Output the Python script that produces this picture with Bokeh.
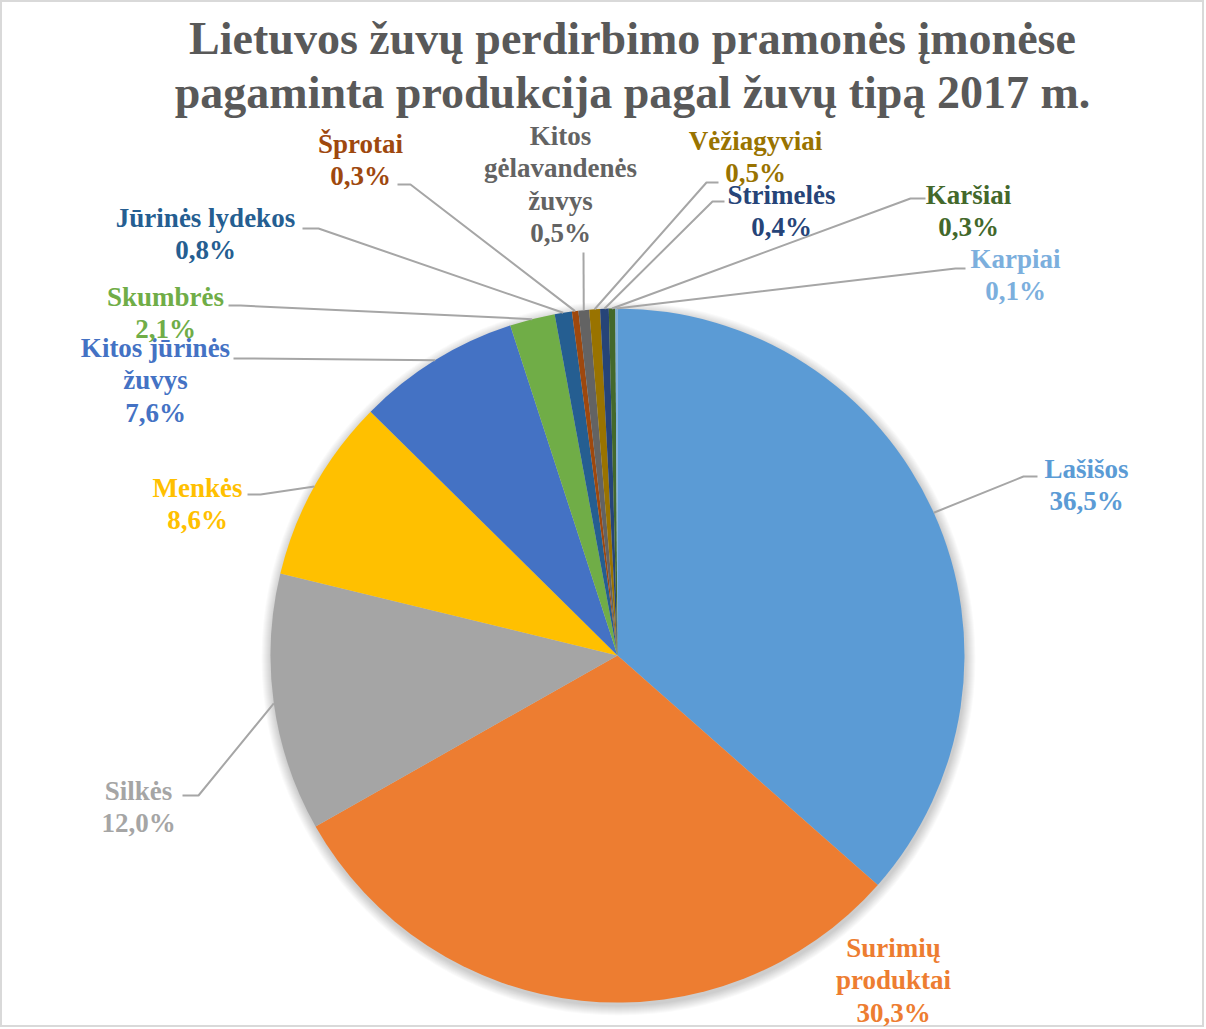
import math
from bokeh.plotting import figure
from bokeh.models import Range1d
from bokeh.core.properties import value
from bokeh.embed import file_html
from bokeh.resources import INLINE

# ---------------- data ----------------
categories = ["Lašišos", "Surimių produktai", "Silkės", "Menkės",
              "Kitos jūrinės žuvys", "Skumbrės", "Jūrinės lydekos", "Šprotai",
              "Kitos gėlavandenės žuvys", "Vėžiagyviai", "Strimelės", "Karšiai", "Karpiai"]
shares = [36.5, 30.3, 12.0, 8.6, 7.6, 2.1, 0.8, 0.3, 0.5, 0.5, 0.4, 0.3, 0.1]
label_lines = [["Lašišos"], ["Surimių", "produktai"], ["Silkės"], ["Menkės"],
               ["Kitos jūrinės", "žuvys"], ["Skumbrės"], ["Jūrinės lydekos"], ["Šprotai"],
               ["Kitos", "gėlavandenės", "žuvys"], ["Vėžiagyviai"], ["Strimelės"], ["Karšiai"], ["Karpiai"]]
colors = ["#5B9BD5", "#ED7D31", "#A5A5A5", "#FFC000", "#4472C4", "#70AD47", "#255E91",
          "#9E480E", "#636363", "#997300", "#264478", "#43682B", "#7CAFDD"]
title_lines = ["Lietuvos žuvų perdirbimo pramonės įmonėse",
               "pagaminta produkcija pagal žuvų tipą 2017 m."]

# ---------------- layout (reference pixel coords) ----------------
PW, PH = 1204, 1027
H = 1029
CX, CY, R = 617, 655, 347
# label text: (center x, first line y); line pitch
label_pos = [(1086, 468), (893, 947), (138, 790), (197, 487), (155, 347), (165, 296),
             (205, 217), (360, 143), (560, 135), (755, 140), (781, 194), (968, 194), (1015, 258)]
LINE_PITCH = 32.5
# leader: (elbow, end) or None
leaders = [((1023, 476), (1037, 476)), None, ((198, 795), (182, 795)), ((260, 494), (247, 494)),
           ((245, 358), (233, 358)), ((240, 305), (228, 305)), ((318, 228), (302, 228)),
           ((410, 184), (397, 184)), ((583, 252), (583, 252)), ((706, 182), (718, 182)),
           ((712, 201), (724, 201)), ((910, 198), (925, 198)), ((955, 268), (965, 268))]


def Y(y):
    return H - y


FONT = value("Liberation Serif")

p = figure(width=PW, height=PH, output_backend="svg", toolbar_location=None,
           x_range=Range1d(0, PW), y_range=Range1d(Y(PH), Y(0)),
           min_border=0, match_aspect=False)
p.axis.visible = False
p.grid.visible = False
p.outline_line_color = "#D9D9D9"
p.outline_line_width = 3
p.background_fill_color = "white"
p.border_fill_color = "white"

# shadow
for k in range(10, 0, -1):
    p.circle(x=[CX + 1], y=[Y(CY + 3)], radius=R + k, fill_color="#000000",
             fill_alpha=0.018, line_color=None)

# wedges (clockwise from top)
total = sum(shares)
cum = 0.0
mids = []
starts, ends = [], []
for s in shares:
    a0 = math.pi / 2 - 2 * math.pi * cum / total
    a1 = math.pi / 2 - 2 * math.pi * (cum + s) / total
    starts.append(a0)
    ends.append(a1)
    mids.append((a0 + a1) / 2)
    cum += s
p.wedge(x=[CX] * len(shares), y=[Y(CY)] * len(shares), radius=R,
        start_angle=ends, end_angle=starts, direction="anticlock",
        fill_color=colors, line_color=None)

# leader lines
for i, ld in enumerate(leaders):
    if ld is None:
        continue
    sx = CX + R * math.cos(mids[i])
    sy = CY - R * math.sin(mids[i])
    (ex, ey), (fx, fy) = ld
    p.line(x=[sx, ex, fx], y=[Y(sy), Y(ey), Y(fy)], line_color="#A6A6A6", line_width=2)

# labels
for i, lines in enumerate(label_lines):
    lx, ly = label_pos[i]
    pct = f"{shares[i]:.1f}".replace(".", ",") + "%"
    allines = lines + [pct]
    for j, t in enumerate(allines):
        p.text(x=[lx], y=[Y(ly + j * LINE_PITCH)], text=[t], text_font=FONT,
               text_font_style="bold", text_font_size="27px", text_color=colors[i],
               text_align="center", text_baseline="middle")

# title
for j, t in enumerate(title_lines):
    p.text(x=[632], y=[Y(38 + j * 54)], text=[t], text_font=FONT, text_font_style="bold",
           text_font_size="46px", text_color="#595959", text_align="center",
           text_baseline="middle")

open("out.html", "w").write(file_html(p, INLINE))
